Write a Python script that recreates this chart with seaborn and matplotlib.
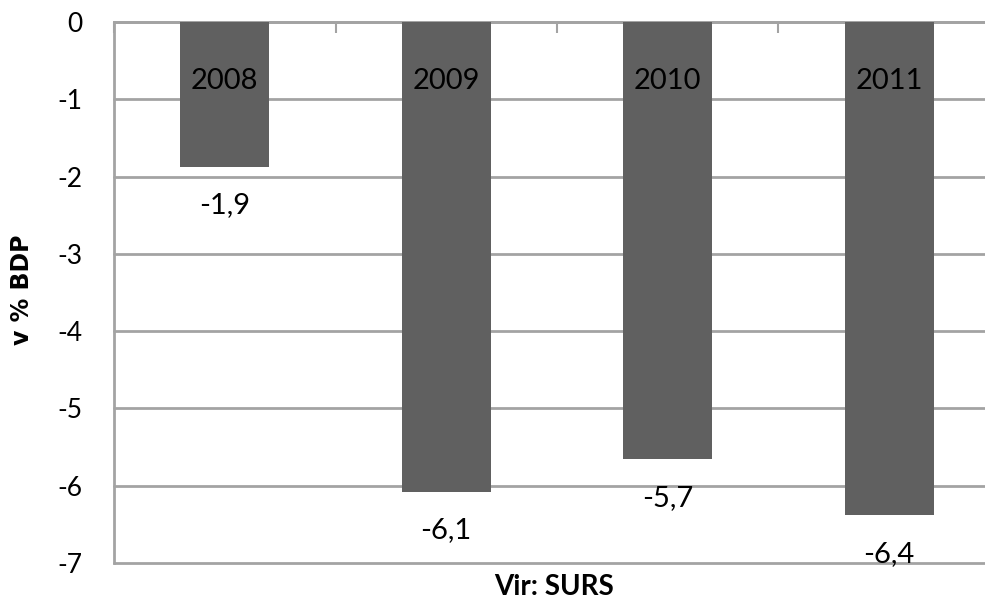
import matplotlib
matplotlib.use("Agg")
import matplotlib.pyplot as plt
import seaborn as sns
import pandas as pd

# data
years = ["2008", "2009", "2010", "2011"]
deficit = [-1.87, -6.08, -5.66, -6.38]
yticks = [0, -1, -2, -3, -4, -5, -6, -7]

sns.set_style("white")
plt.rcParams["font.family"] = ["Lato", "DejaVu Sans"]
plt.rcParams["text.color"] = "black"
plt.rcParams["ytick.labelcolor"] = "black"

df = pd.DataFrame({"year": years, "value": deficit})

bar_color = "#606060"
grid_color = "#a3a3a3"

fig = plt.figure(figsize=(9.85, 6.06), dpi=100)
ax = fig.add_axes([114 / 985, 1 - 563 / 606, (1000 - 114) / 985, (563 - 22) / 606])

sns.barplot(data=df, x="year", y="value", color=bar_color, width=0.4,
            saturation=1, linewidth=0, ax=ax, zorder=3)

ax.set_xlim(-0.5, 3.5)
ax.set_ylim(-7, 0)
ax.set_yticks(yticks)
ax.set_yticklabels([str(t) for t in yticks], fontsize=19)
for t in yticks:
    ax.axhline(t, color=grid_color, lw=2, zorder=1, clip_on=False)

# category axis sits at 0 (top)
ax.xaxis.tick_top()
ax.set_xticks([-0.5, 0.5, 1.5, 2.5, 3.5])
ax.set_xticklabels([])
ax.tick_params(axis="x", direction="in", length=8, width=1.5, color=grid_color)
ax.tick_params(axis="y", direction="out", length=9, width=1.5, color=grid_color, pad=14)

for side in ["right", "bottom"]:
    ax.spines[side].set_visible(False)
ax.spines["top"].set_color(grid_color)
ax.spines["top"].set_linewidth(2)
ax.spines["left"].set_color(grid_color)
ax.spines["left"].set_linewidth(2)

for i, (yr, v) in enumerate(zip(years, deficit)):
    ax.text(i, -0.76, yr, ha="center", va="center", fontsize=21, zorder=4)
    ax.text(i, v - 0.5, f"{v:.1f}".replace(".", ","), ha="center", va="center",
            fontsize=21, zorder=4)

ax.set_xlabel("")
ax.set_ylabel("")
fig.text(22 / 985, 1 - 290 / 606, "v % BDP", rotation=90, ha="center", va="center",
         fontsize=17, fontweight="bold", family=["DejaVu Sans"])
fig.text(554 / 985, 1 - 587 / 606, "Vir: SURS", ha="center", va="center",
         fontsize=20, fontweight="bold")

fig.savefig("out.png", dpi=100)
